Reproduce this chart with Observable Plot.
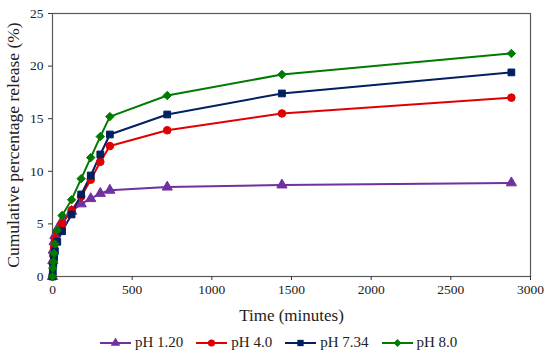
<!DOCTYPE html>
<html>
<head>
<meta charset="utf-8">
<script src="https://cdn.jsdelivr.net/npm/d3@7"></script>
<script src="https://cdn.jsdelivr.net/npm/@observablehq/plot@0.6"></script>
<style>
  body { margin: 0; background: #fff; }
  #wrap { width: 550px; font-family: "Liberation Serif", "DejaVu Serif", serif; }
  #legend { display: flex; justify-content: flex-start; padding-left: 100px; height: 25px; align-items: center; font-size: 15px; color: #222; }
  .item { display: flex; align-items: center; margin-right: 13px; }
  .item svg { margin-right: 4px; }
</style>
</head>
<body>
<div id="wrap"><div id="chart"></div><div id="legend"></div></div>
<script>
const times = [0, 2, 5, 10, 15, 30, 60, 120, 180, 240, 300, 360, 720, 1440, 2880];
const ph120 = [0, 1.5, 2.5, 3.3, 3.9, 4.5, 5.3, 6.2, 6.9, 7.4, 7.9, 8.2, 8.5, 8.7, 8.9];
const ph40  = [0, 1.2, 2.0, 2.8, 3.5, 4.2, 5.0, 6.3, 7.6, 9.2, 10.9, 12.4, 13.9, 15.5, 17.0];
const ph734 = [0, 0.5, 1.2, 1.8, 2.4, 3.3, 4.3, 5.9, 7.8, 9.6, 11.6, 13.5, 15.4, 17.4, 19.4];
const ph80  = [0, 0.8, 1.4, 2.2, 3.1, 4.4, 5.8, 7.3, 9.3, 11.3, 13.3, 15.2, 17.2, 19.2, 21.2];
const seriesNames = ["pH 1.20", "pH 4.0", "pH 7.34", "pH 8.0"];
const seriesColors = ["#7030A0", "#E00000", "#002060", "#007A00"];
const seriesSymbols = ["triangle", "circle", "square", "diamond2"];
const xTicks = [0, 500, 1000, 1500, 2000, 2500, 3000];
const yTicks = [0, 5, 10, 15, 20, 25];

const values = [ph120, ph40, ph734, ph80];
const data = seriesNames.flatMap((s, i) => times.map((t, j) => ({series: s, t, v: values[i][j]})));

const font = "Liberation Serif, DejaVu Serif, serif";
const chart = Plot.plot({
  width: 550,
  height: 330,
  marginLeft: 52,
  marginRight: 20,
  marginTop: 13,
  marginBottom: 54,
  style: {fontFamily: font, fontSize: "13px", color: "#222", background: "#fff"},
  x: {domain: [0, 3000]},
  y: {domain: [0, 25]},
  color: {domain: seriesNames, range: seriesColors},
  symbol: {domain: seriesNames, range: seriesSymbols},
  marks: [
    Plot.frame({stroke: "#595959", strokeWidth: 1.2}),
    Plot.axisX({ticks: xTicks, tickFormat: d => String(d), tickSize: 4, tickPadding: 4, fontSize: 13.5, fontFamily: font, label: null, stroke: "#333"}),
    Plot.axisY({ticks: yTicks, tickFormat: d => String(d), tickSize: 4, tickPadding: 5, fontSize: 13.5, fontFamily: font, label: null, stroke: "#333"}),
    Plot.text(["Time (minutes)"], {frameAnchor: "bottom", dy: 44, fontSize: 17, fill: "#222", fontFamily: font}),
    Plot.text(["Cumulative percentage release (%)"], {frameAnchor: "left", textAnchor: "middle", dx: -39, rotate: -90, fontSize: 17.5, fill: "#222", fontFamily: font}),
    Plot.line(data, {x: "t", y: "v", z: "series", stroke: "series", strokeWidth: 2}),
    Plot.dot(data, {x: "t", y: "v", fill: "series", stroke: "series", symbol: "series", r: 3.8, strokeWidth: 1})
  ]
});
document.getElementById("chart").appendChild(chart);

const legend = document.getElementById("legend");
const symbolMap = {triangle: d3.symbolTriangle, circle: d3.symbolCircle, square: d3.symbolSquare, diamond2: d3.symbolDiamond2};
seriesNames.forEach((s, i) => {
  const item = document.createElement("div");
  item.className = "item";
  const svg = d3.create("svg").attr("width", 31).attr("height", 12);
  svg.append("line").attr("x1", 0).attr("x2", 31).attr("y1", 6).attr("y2", 6).attr("stroke", seriesColors[i]).attr("stroke-width", 2);
  svg.append("path").attr("transform", "translate(15.5,6)").attr("d", d3.symbol(symbolMap[seriesSymbols[i]], 40)()).attr("fill", seriesColors[i]);
  item.appendChild(svg.node());
  const span = document.createElement("span");
  span.textContent = s;
  item.appendChild(span);
  legend.appendChild(item);
});
</script>
</body>
</html>
